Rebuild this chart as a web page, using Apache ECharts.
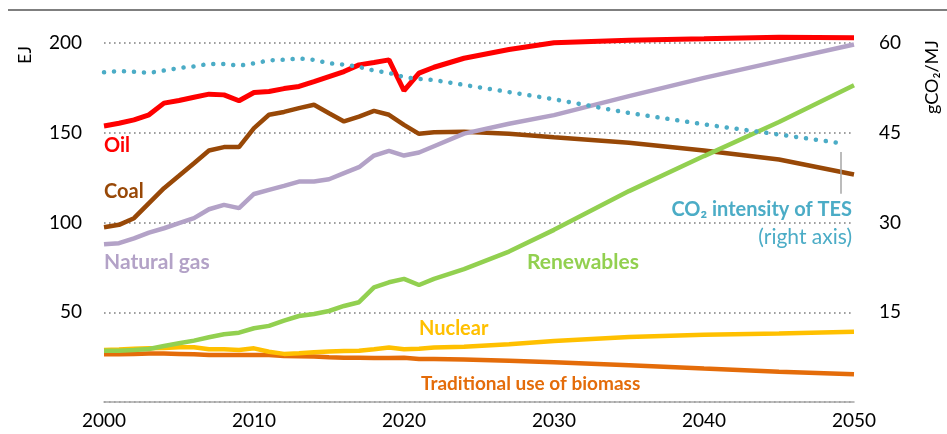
<!DOCTYPE html>
<html>
<head>
<meta charset="utf-8">
<script src="https://cdn.jsdelivr.net/npm/echarts@6/dist/echarts.min.js"></script>
<style>
    html, body { margin: 0; padding: 0; background: #fff; }
    #chart { width: 947px; height: 434px; }
</style>
</head>
<body>
<div id="chart"></div>
<script>
// years (history yearly, outlook at a few points)
var years = [2000, 2001, 2002, 2003, 2004, 2005, 2006, 2007, 2008, 2009, 2010, 2011,
    2012, 2013, 2014, 2015, 2016, 2017, 2018, 2019, 2020, 2021, 2022,
    2024, 2027, 2030, 2035, 2040, 2045, 2050];
// CO2 intensity line stops just short of 2050
var co2Years = [2000, 2001, 2002, 2003, 2004, 2005, 2006, 2007, 2008, 2009, 2010, 2011,
    2012, 2013, 2014, 2015, 2016, 2017, 2018, 2019, 2020, 2021, 2022,
    2024, 2027, 2030, 2035, 2040, 2045, 2049];

// EJ
var oil = [153.8, 155.3, 157.2, 160, 166.5, 168, 169.8, 171.5, 171.1, 167.8, 172.4, 173,
    174.6, 175.8, 178.5, 181.3, 184.1, 187.8, 189.1, 190.6, 173.4, 183.2, 186.5,
    191.5, 196.4, 200.1, 201.6, 202.3, 203.2, 202.9];
var coal = [97.4, 98.7, 102.4, 110.8, 119.1, 126, 133, 140.1, 142, 142, 152.6, 160,
    161.6, 163.7, 165.6, 160.9, 156.3, 159, 162.2, 160, 154.4, 149.4, 150.3,
    150.5, 149.5, 147.5, 144.4, 140.1, 135.1, 126.7];
var gas = [87.9, 88.5, 91.2, 94.4, 96.8, 99.6, 102.4, 107.4, 109.8, 108, 115.9, 118.2,
    120.4, 122.8, 122.8, 124.1, 127.5, 130.8, 137.3, 139.9, 137.3, 139, 142.5,
    149.5, 155, 159.8, 170.4, 180.6, 189.9, 199.2];
var renewables = [28.6, 28.6, 29, 29.5, 31.2, 32.7, 34.2, 36.1, 37.7, 38.6, 41.1, 42.4,
    45.3, 47.9, 49, 50.7, 53.5, 55.6, 63.9, 66.7, 68.6, 65.2, 68.6,
    74, 83.8, 95.9, 117.5, 137, 156, 176.5];
var nuclear = [29, 29.3, 29.7, 29.9, 30.1, 30.5, 30.5, 29.4, 29.4, 29, 29.9, 28,
    26.8, 27.1, 27.7, 28.2, 28.4, 28.6, 29.4, 30.3, 29.4, 29.7, 30.3,
    30.8, 32.2, 34, 36.2, 37.4, 38.2, 39.2];
var biomass = [26.6, 26.6, 26.8, 27, 27, 26.8, 26.6, 26.2, 26.2, 26.2, 26.2, 26.2,
    25.6, 25.5, 25.3, 24.9, 24.7, 24.7, 24.5, 24.5, 24.7, 24, 24,
    23.7, 23, 22.1, 20.5, 18.6, 16.9, 15.4];
// gCO2/MJ (right axis)
var co2 = [55.1, 55.3, 55.2, 55.0, 55.4, 55.8, 56.1, 56.5, 56.5, 56.2, 56.6, 57.1,
    57.2, 57.4, 57.2, 56.6, 56.4, 56.0, 55.4, 55.0, 54.3, 54.0, 53.8,
    53.0, 51.8, 50.6, 48.3, 46.4, 44.7, 43.3];

var leftTicks = [50, 100, 150, 200];
var rightTicks = [15, 30, 45, 60];

var FONT = 'Lato, "Noto Sans", sans-serif';

function pairs(xs, ys) {
    var out = [];
    for (var i = 0; i < xs.length; i++) {
        out.push([xs[i], ys[i]]);
    }
    return out;
}

function lineSeries(name, xs, ys, color, width, axis) {
    return {
        name: name,
        type: 'line',
        yAxisIndex: axis || 0,
        data: pairs(xs, ys),
        showSymbol: false,
        clip: false,
        lineStyle: { color: color, width: width }
    };
}

function label(text, x, y, color, size, align, weight) {
    return {
        type: 'text',
        x: x,
        y: y,
        style: {
            text: text,
            fill: color,
            font: (weight || 'bold') + ' ' + size + 'px ' + FONT,
            textAlign: align || 'left',
            textVerticalAlign: 'middle'
        }
    };
}

var myChart = echarts.init(document.getElementById('chart'));

var co2Series = lineSeries('CO2 intensity of TES', co2Years, co2, '#4bacc6', 4.5, 1);
co2Series.lineStyle.type = [0.1, 9.9];
co2Series.lineStyle.cap = 'round';
// leader line from the label to the end of the dotted line
co2Series.markLine = {
    silent: true,
    symbol: 'none',
    label: { show: false },
    lineStyle: { color: '#a6a6a6', width: 1.5, type: 'solid' },
    data: [[{ coord: [2049.1, 41.8] }, { coord: [2049.1, 34.8] }]]
};

var option = {
    animation: false,
    grid: { left: 104, right: 93, top: 43, bottom: 32, outerBoundsMode: 'none' },
    xAxis: {
        type: 'value',
        min: 2000,
        max: 2050,
        interval: 10,
        axisLine: { show: true, lineStyle: { color: '#a6a6a6', width: 1.5 } },
        axisTick: { show: false },
        splitLine: { show: false },
        axisLabel: {
            margin: 9,
            color: '#000',
            fontFamily: FONT,
            fontSize: 19,
            formatter: function (v) { return String(v); }
        }
    },
    yAxis: [{
        type: 'value',
        min: 0,
        max: 200,
        interval: 50,
        axisLine: { show: false },
        axisTick: { show: false },
        splitLine: { show: true, lineStyle: { color: '#808080', width: 1.6, type: [1.6, 3.4] } },
        axisLabel: {
            margin: 22,
            color: '#000',
            fontFamily: FONT,
            fontSize: 19,
            formatter: function (v) { return leftTicks.indexOf(v) >= 0 ? String(v) : ''; }
        }
    }, {
        type: 'value',
        min: 0,
        max: 60,
        interval: 15,
        position: 'right',
        axisLine: { show: false },
        axisTick: { show: false },
        splitLine: { show: false },
        axisLabel: {
            margin: 25,
            color: '#000',
            fontFamily: FONT,
            fontSize: 19,
            formatter: function (v) { return rightTicks.indexOf(v) >= 0 ? String(v) : ''; }
        }
    }],
    series: [
        lineSeries('Coal', years, coal, '#984807', 4.5),
        lineSeries('Traditional use of biomass', years, biomass, '#e46c0a', 4.5),
        lineSeries('Nuclear', years, nuclear, '#ffc000', 4.5),
        lineSeries('Oil', years, oil, '#ff0000', 5),
        lineSeries('Natural gas', years, gas, '#b3a2c7', 4.5),
        lineSeries('Renewables', years, renewables, '#92d050', 4.5),
        co2Series
    ],
    graphic: [
        {
            type: 'line',
            shape: { x1: 8, y1: 10, x2: 947, y2: 10 },
            style: { stroke: '#7f7f7f', lineWidth: 2 }
        },
        {
            type: 'text', x: 25, y: 55, rotation: Math.PI / 2,
            style: { text: 'EJ', fill: '#000', font: '18px ' + FONT, textAlign: 'center', textVerticalAlign: 'middle' }
        },
        {
            type: 'text', x: 932, y: 77, rotation: Math.PI / 2,
            style: { text: 'gCO₂/MJ', fill: '#000', font: '18px ' + FONT, textAlign: 'center', textVerticalAlign: 'middle' }
        },
        label('Oil', 104, 146, '#ff0000', 20),
        label('Coal', 104, 192, '#984807', 20),
        label('Natural gas', 104, 262, '#b3a2c7', 21),
        label('Renewables', 527, 262, '#92d050', 21),
        label('Nuclear', 419, 329, '#ffc000', 20),
        label('Traditional use of biomass', 421, 384, '#e46c0a', 19),
        label('CO₂ intensity of TES', 852, 210, '#4bacc6', 20, 'right'),
        label('(right axis)', 852, 237, '#4bacc6', 21, 'right', 'normal')
    ]
};

myChart.setOption(option);
</script>
</body>
</html>
